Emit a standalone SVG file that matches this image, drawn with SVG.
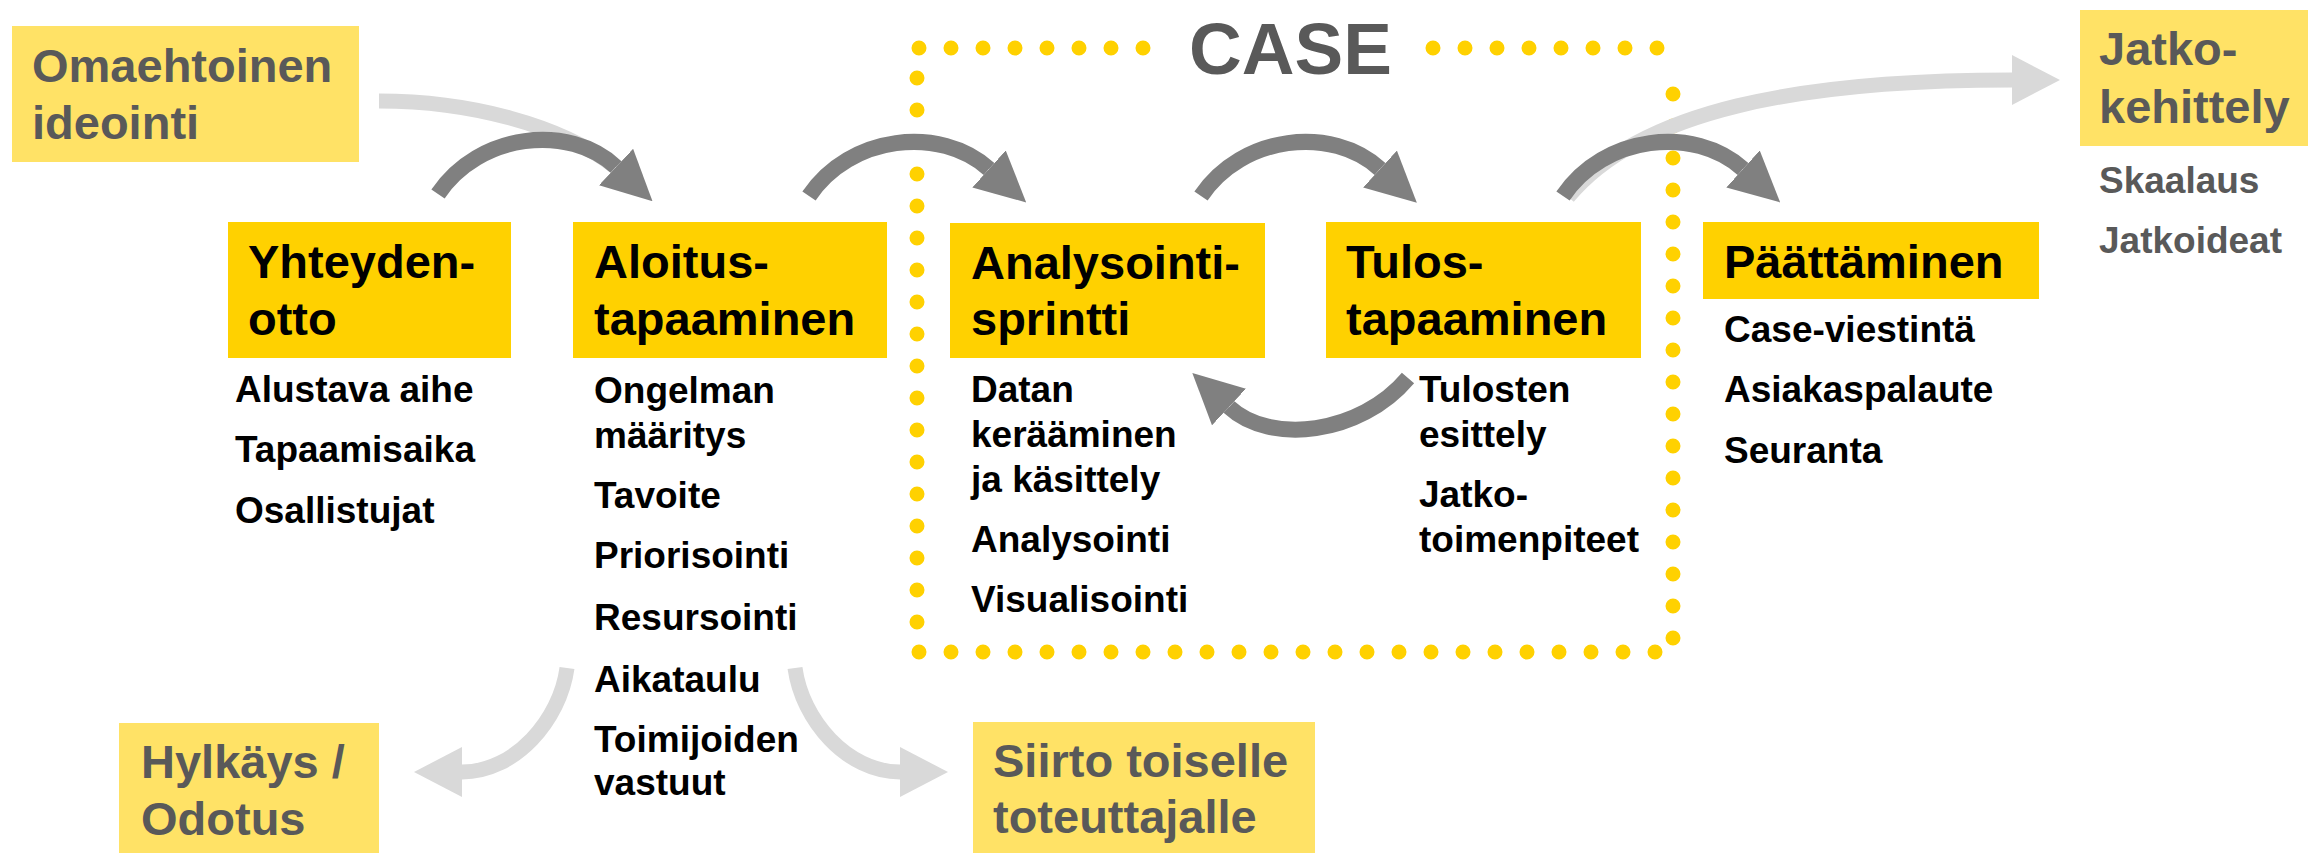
<svg xmlns="http://www.w3.org/2000/svg" width="2308" height="853" viewBox="0 0 2308 853">
<style>
text{font-family:"Liberation Sans",Arial,sans-serif;font-weight:bold}
.h{font-size:47px;fill:#000}
.hg{font-size:47px;fill:#595959}
.s{font-size:37px;fill:#000}
.sg{font-size:37px;fill:#595959}
.box{fill:#FFD100}
.lbox{fill:#FFE266}
.dark{fill:none;stroke:#808080;stroke-width:16}
.light{fill:none;stroke:#D9D9D9;stroke-width:15}
.frame{fill:none;stroke:#FFD100;stroke-width:15;stroke-linecap:round;stroke-dasharray:0 32}
</style>
<defs>
<marker id="hd" markerUnits="userSpaceOnUse" markerWidth="50" markerHeight="50" refX="0" refY="25" orient="auto" viewBox="0 0 50 50"><path d="M0,0 L50,25 L0,50 z" fill="#808080"/></marker>
<marker id="hl" markerUnits="userSpaceOnUse" markerWidth="48" markerHeight="50" refX="0" refY="25" orient="auto" viewBox="0 0 48 50"><path d="M0,0 L48,25 L0,50 z" fill="#D9D9D9"/></marker>
</defs>

<g id="case-frame">
<path class="frame" d="M1143,48 H917 V652 H1673 V64"/>
<path class="frame" d="M1433,48 H1660"/>
<text x="1189" y="74" style="font-size:73px;fill:#595959">CASE</text>
</g>

<g id="connectors">
<path class="light" d="M379,101 C470,101 560,125 614,166"/>
<path class="light" d="M1568,197 C1640,110 1800,80 2012,80" marker-end="url(#hl)"/>
<path class="light" d="M567,668 C560,720 515,772 462,772" marker-end="url(#hl)"/>
<path class="light" d="M795,668 C802,720 847,772 900,772" marker-end="url(#hl)"/>
<path class="dark" d="M438,194 C479,133 569,123 616,167" marker-end="url(#hd)"/>
<path class="dark" d="M809,196 C850,135 940,125 989,169" marker-end="url(#hd)"/>
<path class="dark" d="M1201,196 C1242,135 1332,125 1380,169" marker-end="url(#hd)"/>
<path class="dark" d="M1563,196 C1604,135 1694,125 1743,169" marker-end="url(#hd)"/>
<path class="dark" d="M1408,378 C1360,435 1270,445 1229,407" marker-end="url(#hd)"/>
</g>

<g id="n-omaehtoinen">
<rect class="lbox" x="12" y="26" width="347" height="136"/>
<text class="hg" x="32" y="82">Omaehtoinen</text>
<text class="hg" x="32" y="139">ideointi</text>
</g>

<g id="n-yhteydenotto">
<rect class="box" x="228" y="222" width="283" height="136"/>
<text class="h" x="248" y="278">Yhteyden-</text>
<text class="h" x="248" y="335">otto</text>
<text class="s" x="235" y="402">Alustava aihe</text>
<text class="s" x="235" y="462">Tapaamisaika</text>
<text class="s" x="235" y="523">Osallistujat</text>
</g>

<g id="n-aloitus">
<rect class="box" x="573" y="222" width="314" height="136"/>
<text class="h" x="594" y="278">Aloitus-</text>
<text class="h" x="594" y="335">tapaaminen</text>
<text class="s" x="594" y="403">Ongelman</text>
<text class="s" x="594" y="448">määritys</text>
<text class="s" x="594" y="508">Tavoite</text>
<text class="s" x="594" y="568">Priorisointi</text>
<text class="s" x="594" y="630">Resursointi</text>
<text class="s" x="594" y="692">Aikataulu</text>
<text class="s" x="594" y="752">Toimijoiden</text>
<text class="s" x="594" y="795">vastuut</text>
</g>

<g id="n-analysointi">
<rect class="box" x="950" y="223" width="315" height="135"/>
<text class="h" x="971" y="279">Analysointi-</text>
<text class="h" x="971" y="335">sprintti</text>
<text class="s" x="971" y="402">Datan</text>
<text class="s" x="971" y="447">kerääminen</text>
<text class="s" x="971" y="492">ja käsittely</text>
<text class="s" x="971" y="552">Analysointi</text>
<text class="s" x="971" y="612">Visualisointi</text>
</g>

<g id="n-tulos">
<rect class="box" x="1326" y="222" width="315" height="136"/>
<text class="h" x="1346" y="278">Tulos-</text>
<text class="h" x="1346" y="335">tapaaminen</text>
<text class="s" x="1419" y="402">Tulosten</text>
<text class="s" x="1419" y="447">esittely</text>
<text class="s" x="1419" y="507">Jatko-</text>
<text class="s" x="1419" y="552">toimenpiteet</text>
</g>

<g id="n-paattaminen">
<rect class="box" x="1703" y="222" width="336" height="77"/>
<text class="h" x="1724" y="278">Päättäminen</text>
<text class="s" x="1724" y="342">Case-viestintä</text>
<text class="s" x="1724" y="402">Asiakaspalaute</text>
<text class="s" x="1724" y="463">Seuranta</text>
</g>

<g id="n-jatko">
<rect class="lbox" x="2080" y="10" width="228" height="136"/>
<text class="hg" x="2099" y="65">Jatko-</text>
<text class="hg" x="2099" y="123">kehittely</text>
<text class="sg" x="2099" y="193">Skaalaus</text>
<text class="sg" x="2099" y="253">Jatkoideat</text>
</g>

<g id="n-hylkays">
<rect class="lbox" x="119" y="723" width="260" height="130"/>
<text class="hg" x="141" y="778">Hylkäys /</text>
<text class="hg" x="141" y="835">Odotus</text>
</g>

<g id="n-siirto">
<rect class="lbox" x="973" y="722" width="342" height="131"/>
<text class="hg" x="993" y="777">Siirto toiselle</text>
<text class="hg" x="993" y="833">toteuttajalle</text>
</g>
</svg>
